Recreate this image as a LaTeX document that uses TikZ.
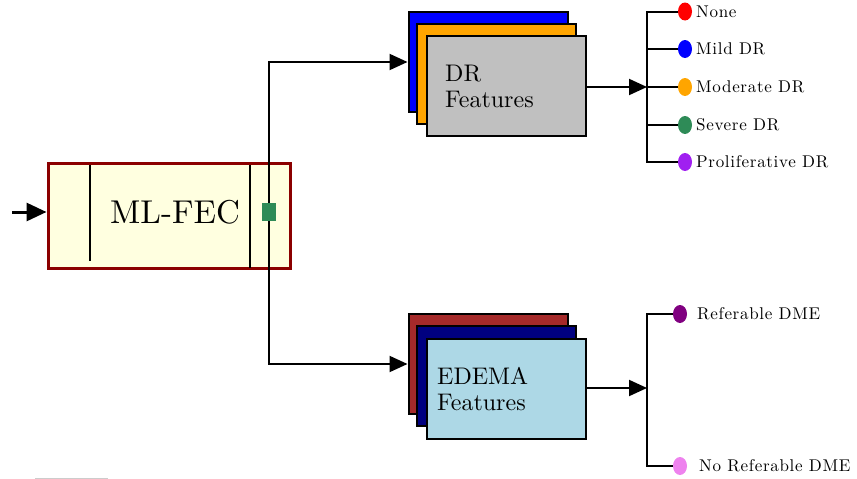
\documentclass[tikz,border=0pt]{standalone}
\usepackage{fontspec}
\usetikzlibrary{arrows.meta,shapes.geometric}
\newfontfamily\lblfont[LetterSpace=4]{lmroman10-regular.otf}
\newfontfamily\bigfont{lmroman10-regular.otf}
\definecolor{mlred}{HTML}{8B0000}
\definecolor{mlyellow}{HTML}{FFFFE0}
\definecolor{sgreen}{HTML}{2E8B57}
\definecolor{dgray}{HTML}{C0C0C0}
\definecolor{dorange}{HTML}{FFA500}
\definecolor{ebrown}{HTML}{A52A2A}
\definecolor{enavy}{HTML}{000080}
\definecolor{eblue}{HTML}{ADD8E6}
\definecolor{cpurple}{HTML}{A020F0}
\definecolor{rpurple}{HTML}{800080}
\definecolor{rviolet}{HTML}{EE82EE}
\tikzset{
  card/.style={draw=black, line width=2pt, minimum width=159pt, minimum height=100pt, inner sep=0pt},
  conn/.style={line width=2pt, -{Triangle[length=18pt,width=16pt]}},
  wire/.style={line width=2pt},
  dot/.style={ellipse, draw=none, minimum width=14pt, minimum height=18pt, inner sep=0pt},
  lbl/.style={anchor=west, inner sep=0pt, font=\lblfont\fontsize{17}{19}\selectfont},
  cardtxt/.style={font=\bigfont\fontsize{24}{26}\selectfont, align=left, anchor=west, inner sep=0pt}
}
\begin{document}
\begin{tikzpicture}[x=1pt,y=-1pt]
\useasboundingbox (0,0) rectangle (857,479);
% ML-FEC block
\node[draw=mlred, fill=mlyellow, line width=3pt, minimum width=242pt, minimum height=105pt, inner sep=0pt] (ml) at (169,215.5) {};
\draw[line width=1.5pt] (90,165) -- (90,261);
\draw[line width=1.5pt] (250,165) -- (250,268);
\node[font=\bigfont\fontsize{33}{36}\selectfont, inner sep=0pt] (mltxt) at (175,212) {ML-FEC};
\coordinate (in) at (12,212);
\draw[line width=3pt, -{Triangle[length=20pt,width=18pt]}] (in) -- (in -| ml.west);
% green port
\node[fill=sgreen, minimum width=14pt, minimum height=18pt, inner sep=0pt] (port) at (269,212) {};
% DR stack
\node[card, fill=blue] (drb) at (488,62) {};
\node[card, fill=dorange] (drm) at (496,74) {};
\node[card, fill=dgray] (drf) at (506.5,86) {};
\node[cardtxt] (drt) at (445,86) {DR\\Features};
% EDEMA stack
\node[card, fill=ebrown] (edb) at (488,364) {};
\node[card, fill=enavy] (edm) at (496,376) {};
\node[card, fill=eblue] (edf) at (506.5,389) {};
\node[cardtxt] (edt) at (437,389) {EDEMA\\Features};
% connectors from port
\draw[conn] (port.north) |- (drb.west);
\draw[conn] (port.south) |- (edb.west);
% DR outputs
\coordinate (drbus) at (647,87);
\draw[conn] (drf.east |- drbus) -- (drbus);
\node[dot, fill=red] (c1) at (685,11.5) {};
\node[dot, fill=blue] (c2) at (685,49) {};
\node[dot, fill=dorange] (c3) at (685,87) {};
\node[dot, fill=sgreen] (c4) at (685,125) {};
\node[dot, fill=cpurple] (c5) at (685,162) {};
\foreach \c in {c1,c2,c3,c4,c5} \draw[wire] (drbus) |- (\c.west);
\node[lbl] (l1) at (696,11.5) {None};
\node[lbl] (l2) at (696,49) {Mild DR};
\node[lbl] (l3) at (696,87) {Moderate DR};
\node[lbl] (l4) at (696,125) {Severe DR};
\node[lbl] (l5) at (696,162) {Proliferative DR};
% EDEMA outputs
\coordinate (edbus) at (647,388);
\draw[conn] (edf.east |- edbus) -- (edbus);
\node[dot, fill=rpurple] (d1) at (680,314) {};
\node[dot, fill=rviolet] (d2) at (680,466) {};
\draw[wire] (edbus) |- (d1.west);
\draw[wire] (edbus) |- (d2.west);
\node[lbl] (m1) at (697,314) {Referable DME};
\node[lbl] (m2) at (699,466) {No Referable DME};
% faint line at bottom
\draw[black!20, line width=1pt] (35,478) -- (108,478);
\end{tikzpicture}
\end{document}
